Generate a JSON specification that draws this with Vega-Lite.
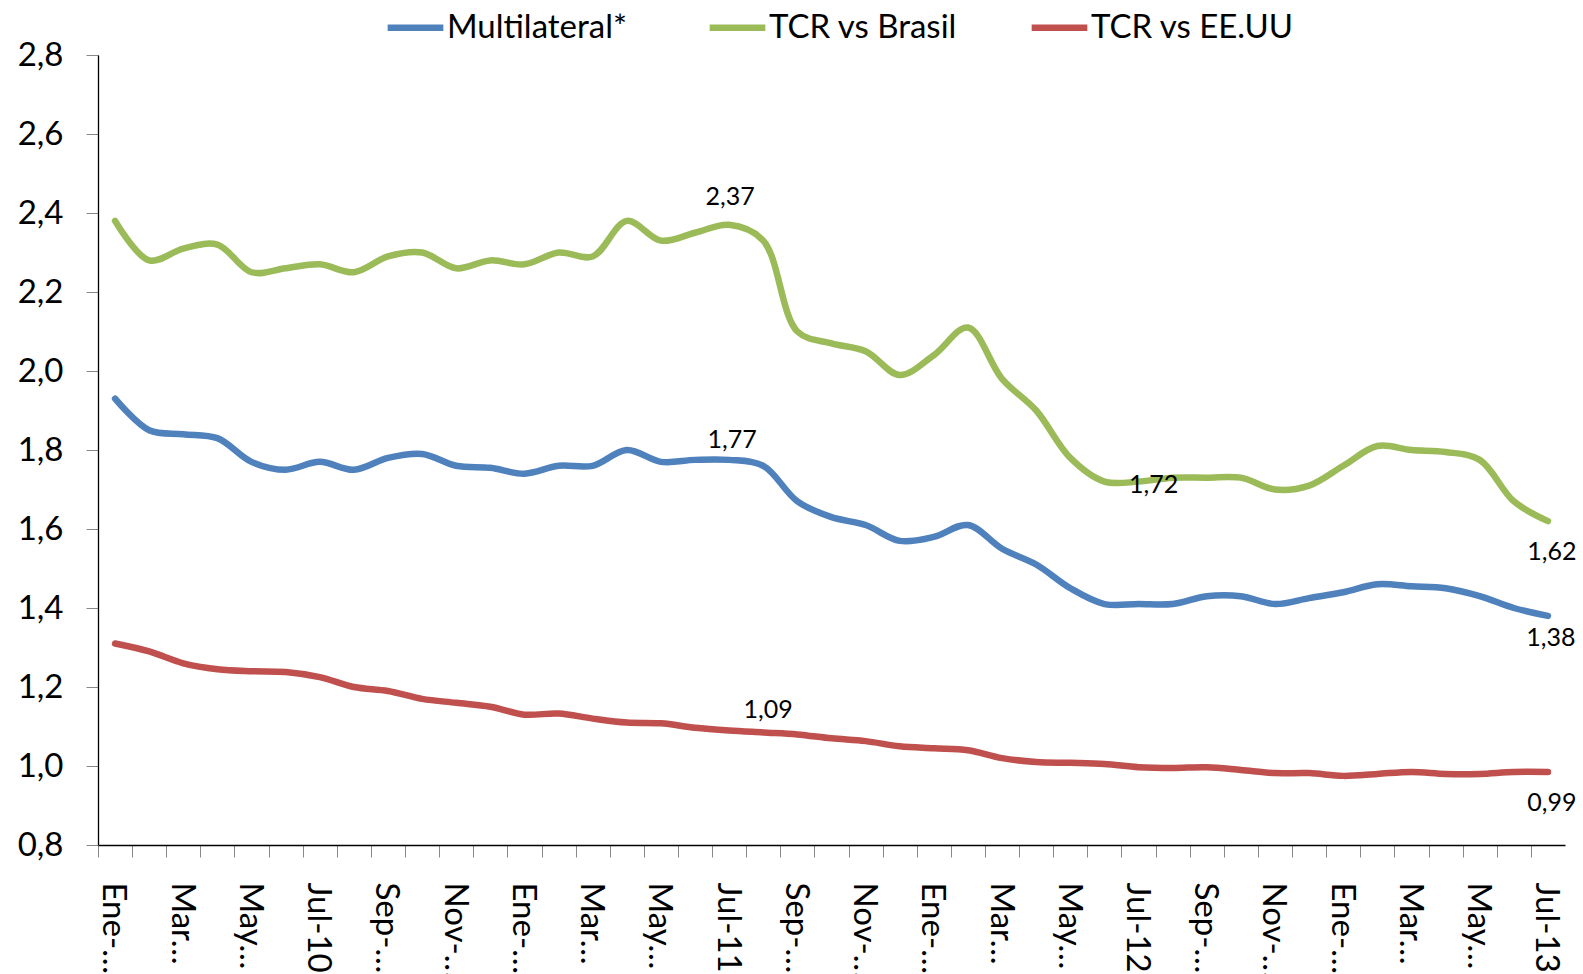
{
  "$schema": "https://vega.github.io/schema/vega-lite/v6.json",
  "autosize": {"type": "none"},
  "padding": {"left": 98, "top": 55, "right": 18, "bottom": 129},
  "width": 1467,
  "height": 790,
  "background": "white",
  "config": {
    "view": {"stroke": null},
    "font": "Lato",
    "axis": {"grid": false, "labelFont": "Lato", "labelColor": "#000000"},
    "legend": {"labelFont": "Lato"}
  },
  "datasets": {
    "serie": [
      {"mes": "Ene-10", "serie": "Multilateral*", "valor": 1.93}, {"mes": "Feb-10", "serie": "Multilateral*", "valor": 1.85}, {"mes": "Mar-10", "serie": "Multilateral*", "valor": 1.84}, {"mes": "Abr-10", "serie": "Multilateral*", "valor": 1.83}, {"mes": "May-10", "serie": "Multilateral*", "valor": 1.77}, {"mes": "Jun-10", "serie": "Multilateral*", "valor": 1.75}, {"mes": "Jul-10", "serie": "Multilateral*", "valor": 1.77}, {"mes": "Ago-10", "serie": "Multilateral*", "valor": 1.75}, {"mes": "Sep-10", "serie": "Multilateral*", "valor": 1.78}, {"mes": "Oct-10", "serie": "Multilateral*", "valor": 1.79}, {"mes": "Nov-10", "serie": "Multilateral*", "valor": 1.76}, {"mes": "Dic-10", "serie": "Multilateral*", "valor": 1.755},
      {"mes": "Ene-11", "serie": "Multilateral*", "valor": 1.74}, {"mes": "Feb-11", "serie": "Multilateral*", "valor": 1.76}, {"mes": "Mar-11", "serie": "Multilateral*", "valor": 1.76}, {"mes": "Abr-11", "serie": "Multilateral*", "valor": 1.80}, {"mes": "May-11", "serie": "Multilateral*", "valor": 1.77}, {"mes": "Jun-11", "serie": "Multilateral*", "valor": 1.775}, {"mes": "Jul-11", "serie": "Multilateral*", "valor": 1.775}, {"mes": "Ago-11", "serie": "Multilateral*", "valor": 1.76}, {"mes": "Sep-11", "serie": "Multilateral*", "valor": 1.67}, {"mes": "Oct-11", "serie": "Multilateral*", "valor": 1.63}, {"mes": "Nov-11", "serie": "Multilateral*", "valor": 1.61}, {"mes": "Dic-11", "serie": "Multilateral*", "valor": 1.57},
      {"mes": "Ene-12", "serie": "Multilateral*", "valor": 1.58}, {"mes": "Feb-12", "serie": "Multilateral*", "valor": 1.61}, {"mes": "Mar-12", "serie": "Multilateral*", "valor": 1.55}, {"mes": "Abr-12", "serie": "Multilateral*", "valor": 1.51}, {"mes": "May-12", "serie": "Multilateral*", "valor": 1.45}, {"mes": "Jun-12", "serie": "Multilateral*", "valor": 1.41}, {"mes": "Jul-12", "serie": "Multilateral*", "valor": 1.41}, {"mes": "Ago-12", "serie": "Multilateral*", "valor": 1.41}, {"mes": "Sep-12", "serie": "Multilateral*", "valor": 1.43}, {"mes": "Oct-12", "serie": "Multilateral*", "valor": 1.43}, {"mes": "Nov-12", "serie": "Multilateral*", "valor": 1.41}, {"mes": "Dic-12", "serie": "Multilateral*", "valor": 1.425},
      {"mes": "Ene-13", "serie": "Multilateral*", "valor": 1.44}, {"mes": "Feb-13", "serie": "Multilateral*", "valor": 1.46}, {"mes": "Mar-13", "serie": "Multilateral*", "valor": 1.455}, {"mes": "Abr-13", "serie": "Multilateral*", "valor": 1.45}, {"mes": "May-13", "serie": "Multilateral*", "valor": 1.43}, {"mes": "Jun-13", "serie": "Multilateral*", "valor": 1.40}, {"mes": "Jul-13", "serie": "Multilateral*", "valor": 1.38},

      {"mes": "Ene-10", "serie": "TCR vs Brasil", "valor": 2.38}, {"mes": "Feb-10", "serie": "TCR vs Brasil", "valor": 2.28}, {"mes": "Mar-10", "serie": "TCR vs Brasil", "valor": 2.31}, {"mes": "Abr-10", "serie": "TCR vs Brasil", "valor": 2.32}, {"mes": "May-10", "serie": "TCR vs Brasil", "valor": 2.25}, {"mes": "Jun-10", "serie": "TCR vs Brasil", "valor": 2.26}, {"mes": "Jul-10", "serie": "TCR vs Brasil", "valor": 2.27}, {"mes": "Ago-10", "serie": "TCR vs Brasil", "valor": 2.25}, {"mes": "Sep-10", "serie": "TCR vs Brasil", "valor": 2.29}, {"mes": "Oct-10", "serie": "TCR vs Brasil", "valor": 2.30}, {"mes": "Nov-10", "serie": "TCR vs Brasil", "valor": 2.26}, {"mes": "Dic-10", "serie": "TCR vs Brasil", "valor": 2.28},
      {"mes": "Ene-11", "serie": "TCR vs Brasil", "valor": 2.27}, {"mes": "Feb-11", "serie": "TCR vs Brasil", "valor": 2.30}, {"mes": "Mar-11", "serie": "TCR vs Brasil", "valor": 2.29}, {"mes": "Abr-11", "serie": "TCR vs Brasil", "valor": 2.38}, {"mes": "May-11", "serie": "TCR vs Brasil", "valor": 2.33}, {"mes": "Jun-11", "serie": "TCR vs Brasil", "valor": 2.35}, {"mes": "Jul-11", "serie": "TCR vs Brasil", "valor": 2.37}, {"mes": "Ago-11", "serie": "TCR vs Brasil", "valor": 2.33}, {"mes": "Sep-11", "serie": "TCR vs Brasil", "valor": 2.10}, {"mes": "Oct-11", "serie": "TCR vs Brasil", "valor": 2.07}, {"mes": "Nov-11", "serie": "TCR vs Brasil", "valor": 2.05}, {"mes": "Dic-11", "serie": "TCR vs Brasil", "valor": 1.99},
      {"mes": "Ene-12", "serie": "TCR vs Brasil", "valor": 2.04}, {"mes": "Feb-12", "serie": "TCR vs Brasil", "valor": 2.11}, {"mes": "Mar-12", "serie": "TCR vs Brasil", "valor": 1.98}, {"mes": "Abr-12", "serie": "TCR vs Brasil", "valor": 1.90}, {"mes": "May-12", "serie": "TCR vs Brasil", "valor": 1.78}, {"mes": "Jun-12", "serie": "TCR vs Brasil", "valor": 1.72}, {"mes": "Jul-12", "serie": "TCR vs Brasil", "valor": 1.72}, {"mes": "Ago-12", "serie": "TCR vs Brasil", "valor": 1.73}, {"mes": "Sep-12", "serie": "TCR vs Brasil", "valor": 1.73}, {"mes": "Oct-12", "serie": "TCR vs Brasil", "valor": 1.73}, {"mes": "Nov-12", "serie": "TCR vs Brasil", "valor": 1.70}, {"mes": "Dic-12", "serie": "TCR vs Brasil", "valor": 1.71},
      {"mes": "Ene-13", "serie": "TCR vs Brasil", "valor": 1.76}, {"mes": "Feb-13", "serie": "TCR vs Brasil", "valor": 1.81}, {"mes": "Mar-13", "serie": "TCR vs Brasil", "valor": 1.80}, {"mes": "Abr-13", "serie": "TCR vs Brasil", "valor": 1.795}, {"mes": "May-13", "serie": "TCR vs Brasil", "valor": 1.775}, {"mes": "Jun-13", "serie": "TCR vs Brasil", "valor": 1.67}, {"mes": "Jul-13", "serie": "TCR vs Brasil", "valor": 1.62},

      {"mes": "Ene-10", "serie": "TCR vs EE.UU", "valor": 1.31}, {"mes": "Feb-10", "serie": "TCR vs EE.UU", "valor": 1.29}, {"mes": "Mar-10", "serie": "TCR vs EE.UU", "valor": 1.26}, {"mes": "Abr-10", "serie": "TCR vs EE.UU", "valor": 1.245}, {"mes": "May-10", "serie": "TCR vs EE.UU", "valor": 1.24}, {"mes": "Jun-10", "serie": "TCR vs EE.UU", "valor": 1.238}, {"mes": "Jul-10", "serie": "TCR vs EE.UU", "valor": 1.225}, {"mes": "Ago-10", "serie": "TCR vs EE.UU", "valor": 1.20}, {"mes": "Sep-10", "serie": "TCR vs EE.UU", "valor": 1.19}, {"mes": "Oct-10", "serie": "TCR vs EE.UU", "valor": 1.17}, {"mes": "Nov-10", "serie": "TCR vs EE.UU", "valor": 1.16}, {"mes": "Dic-10", "serie": "TCR vs EE.UU", "valor": 1.15},
      {"mes": "Ene-11", "serie": "TCR vs EE.UU", "valor": 1.13}, {"mes": "Feb-11", "serie": "TCR vs EE.UU", "valor": 1.133}, {"mes": "Mar-11", "serie": "TCR vs EE.UU", "valor": 1.12}, {"mes": "Abr-11", "serie": "TCR vs EE.UU", "valor": 1.11}, {"mes": "May-11", "serie": "TCR vs EE.UU", "valor": 1.108}, {"mes": "Jun-11", "serie": "TCR vs EE.UU", "valor": 1.097}, {"mes": "Jul-11", "serie": "TCR vs EE.UU", "valor": 1.09}, {"mes": "Ago-11", "serie": "TCR vs EE.UU", "valor": 1.085}, {"mes": "Sep-11", "serie": "TCR vs EE.UU", "valor": 1.08}, {"mes": "Oct-11", "serie": "TCR vs EE.UU", "valor": 1.07}, {"mes": "Nov-11", "serie": "TCR vs EE.UU", "valor": 1.063}, {"mes": "Dic-11", "serie": "TCR vs EE.UU", "valor": 1.05},
      {"mes": "Ene-12", "serie": "TCR vs EE.UU", "valor": 1.045}, {"mes": "Feb-12", "serie": "TCR vs EE.UU", "valor": 1.04}, {"mes": "Mar-12", "serie": "TCR vs EE.UU", "valor": 1.02}, {"mes": "Abr-12", "serie": "TCR vs EE.UU", "valor": 1.01}, {"mes": "May-12", "serie": "TCR vs EE.UU", "valor": 1.008}, {"mes": "Jun-12", "serie": "TCR vs EE.UU", "valor": 1.005}, {"mes": "Jul-12", "serie": "TCR vs EE.UU", "valor": 0.997}, {"mes": "Ago-12", "serie": "TCR vs EE.UU", "valor": 0.995}, {"mes": "Sep-12", "serie": "TCR vs EE.UU", "valor": 0.997}, {"mes": "Oct-12", "serie": "TCR vs EE.UU", "valor": 0.99}, {"mes": "Nov-12", "serie": "TCR vs EE.UU", "valor": 0.982}, {"mes": "Dic-12", "serie": "TCR vs EE.UU", "valor": 0.982},
      {"mes": "Ene-13", "serie": "TCR vs EE.UU", "valor": 0.975}, {"mes": "Feb-13", "serie": "TCR vs EE.UU", "valor": 0.98}, {"mes": "Mar-13", "serie": "TCR vs EE.UU", "valor": 0.985}, {"mes": "Abr-13", "serie": "TCR vs EE.UU", "valor": 0.98}, {"mes": "May-13", "serie": "TCR vs EE.UU", "valor": 0.98}, {"mes": "Jun-13", "serie": "TCR vs EE.UU", "valor": 0.985}, {"mes": "Jul-13", "serie": "TCR vs EE.UU", "valor": 0.985}
    ],
    "etiquetas": [
      {"mes": "Jul-11", "valor": 2.37, "texto": "2,37"},
      {"mes": "Jul-11", "valor": 1.775, "texto": "1,77"},
      {"mes": "Jul-11", "valor": 1.09, "texto": "1,09"},
      {"mes": "Jul-12", "valor": 1.72, "texto": "1,72"},
      {"mes": "Jul-13", "valor": 1.62, "texto": "1,62"},
      {"mes": "Jul-13", "valor": 1.38, "texto": "1,38"},
      {"mes": "Jul-13", "valor": 0.985, "texto": "0,99"}
    ]
  },
  "encoding": {
    "x": {
      "field": "mes", "type": "ordinal", "sort": null,
      "scale": {"type": "point", "padding": 0.5},
      "axis": {
        "title": null,
        "labelAngle": 90, "labelAlign": "left", "labelBaseline": "middle",
        "labelFontSize": 33, "labelPadding": 25, "labelOffset": 15,
        "tickOffset": -17.06, "tickSize": 12, "tickColor": "#888888", "tickWidth": 1,
        "domainColor": "#000000", "domainWidth": 1.3,
        "labelOverlap": false, "labelBound": false, "labelFlush": false,
        "labelExpr": "indexof(['Ene','Mar','May','Jul','Sep','Nov'], slice(datum.value,0,3)) < 0 ? '' : slice(datum.value,0,3) == 'Jul' ? datum.value : (slice(datum.value,0,3) == 'Mar' || slice(datum.value,0,3) == 'May') ? slice(datum.value,0,3) + '…' : slice(datum.value,0,4) + '…'"
      }
    },
    "y": {
      "field": "valor", "type": "quantitative",
      "scale": {"domain": [0.8, 2.8], "nice": false, "zero": false},
      "axis": {
        "title": null,
        "values": [0.8, 1.0, 1.2, 1.4, 1.6, 1.8, 2.0, 2.2, 2.4, 2.6, 2.8],
        "labelExpr": "replace(format(datum.value, '.1f'), '.', ',')",
        "labelFontSize": 33, "labelPadding": 23,
        "tickSize": 12, "tickColor": "#888888", "tickWidth": 1,
        "domainColor": "#000000", "domainWidth": 1.3
      }
    }
  },
  "layer": [
    {
      "data": {"name": "serie"},
      "mark": {"type": "line", "strokeWidth": 6.5, "interpolate": "catmull-rom", "strokeCap": "round", "strokeJoin": "round"},
      "encoding": {
        "color": {
          "field": "serie", "type": "nominal",
          "scale": {"domain": ["Multilateral*", "TCR vs Brasil", "TCR vs EE.UU"], "range": ["#4F81BD", "#9BBB59", "#C0504D"]},
          "legend": {
            "title": null, "orient": "none", "direction": "horizontal",
            "legendX": 286, "legendY": -59,
            "symbolType": "stroke", "symbolSize": 3100, "symbolStrokeWidth": 6.5,
            "labelFontSize": 33, "labelOffset": 0, "columnPadding": 46, "padding": 0,
            "gridAlign": "all",
            "labelColor": "#000000", "labelLimit": 400
          }
        }
      }
    },
    {
      "data": {"name": "etiquetas"},
      "transform": [{"filter": "datum.texto == '2,37'"}],
      "mark": {"type": "text", "fontSize": 25, "font": "Lato", "color": "#000000", "dy": -28, "dx": 1},
      "encoding": {"text": {"field": "texto"}}
    },
    {
      "data": {"name": "etiquetas"},
      "transform": [{"filter": "datum.texto == '1,77'"}],
      "mark": {"type": "text", "fontSize": 25, "font": "Lato", "color": "#000000", "dy": -20, "dx": 3},
      "encoding": {"text": {"field": "texto"}}
    },
    {
      "data": {"name": "etiquetas"},
      "transform": [{"filter": "datum.texto == '1,09'"}],
      "mark": {"type": "text", "fontSize": 25, "font": "Lato", "color": "#000000", "dy": -20, "dx": 39},
      "encoding": {"text": {"field": "texto"}}
    },
    {
      "data": {"name": "etiquetas"},
      "transform": [{"filter": "datum.texto == '1,72'"}],
      "mark": {"type": "text", "fontSize": 25, "font": "Lato", "color": "#000000", "dy": 3, "dx": 15},
      "encoding": {"text": {"field": "texto"}}
    },
    {
      "data": {"name": "etiquetas"},
      "transform": [{"filter": "datum.texto == '1,62' || datum.texto == '0,99'"}],
      "mark": {"type": "text", "fontSize": 25, "font": "Lato", "color": "#000000", "dy": 31, "dx": 4},
      "encoding": {"text": {"field": "texto"}}
    },
    {
      "data": {"name": "etiquetas"},
      "transform": [{"filter": "datum.texto == '1,38'"}],
      "mark": {"type": "text", "fontSize": 25, "font": "Lato", "color": "#000000", "dy": 22, "dx": 3},
      "encoding": {"text": {"field": "texto"}}
    }
  ]
}
